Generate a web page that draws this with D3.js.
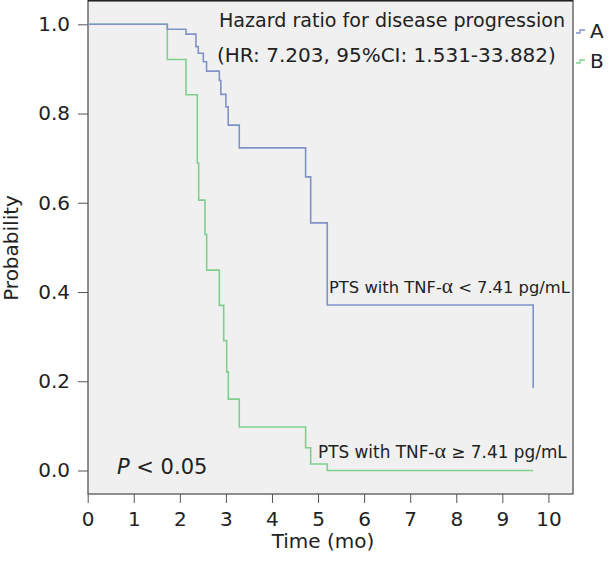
<!DOCTYPE html>
<html>
<head>
<meta charset="utf-8">
<script src="https://cdn.jsdelivr.net/npm/d3@7/dist/d3.min.js"></script>
<style>
  html, body { margin: 0; padding: 0; background: #fff; }
  svg { display: block; }
  text { font-family: "DejaVu Sans", Verdana, sans-serif; fill: #222; }
</style>
</head>
<body>
<svg id="chart" width="615" height="565"></svg>
<script>
// ---- data ----
const xTicks = [0, 1, 2, 3, 4, 5, 6, 7, 8, 9, 10];
const yTicks = [0, 0.2, 0.4, 0.6, 0.8, 1.0];
const seriesNames = ["A", "B"];
const timesA = [0, 1.728, 2.134, 2.35, 2.40, 2.51, 2.58, 2.857, 2.89, 3.0, 3.05, 3.29, 4.73, 4.84, 5.20, 9.67];
const survA  = [1, 0.989, 0.978, 0.950, 0.935, 0.916, 0.895, 0.874, 0.843, 0.815, 0.774, 0.723, 0.658, 0.555, 0.371, 0.185];
const timesB = [0, 1.728, 2.134, 2.379, 2.409, 2.546, 2.583, 2.857, 2.952, 3.017, 3.052, 3.29, 4.73, 4.84, 5.20, 9.67];
const survB  = [1, 0.921, 0.842, 0.689, 0.606, 0.529, 0.449, 0.370, 0.291, 0.221, 0.160, 0.0975, 0.051, 0.0146, 0, 0];
const titleLines = ["Hazard ratio for disease progression", "(HR: 7.203, 95%CI: 1.531-33.882)"];
const xLabel = "Time (mo)";
const yLabel = "Probability";

// ---- layout ----
const colors = { A: "#7f92c9", B: "#7fd08e" };
const frame = { left: 88, right: 573, top: 0.5, bottom: 494 };
const svg = d3.select("#chart");

const x = d3.scaleLinear().domain([0, 10]).range([87.7, 548.4]);
const y = d3.scaleLinear().domain([0, 1]).range([470.5, 24.3]);

// plot background
svg.append("rect")
  .attr("x", frame.left).attr("y", frame.top)
  .attr("width", frame.right - frame.left).attr("height", frame.bottom - frame.top)
  .attr("fill", "#f0f0f0").attr("stroke", "#555").attr("stroke-width", 1.3);
svg.append("line").attr("x1", frame.left).attr("x2", frame.right).attr("y1", 0.8).attr("y2", 0.8)
  .attr("stroke", "#222").attr("stroke-width", 1.6);

// axes
const yAxis = svg.append("g").attr("transform", `translate(${frame.left},0)`)
  .call(d3.axisLeft(y).tickValues(yTicks).tickFormat(d3.format(".1f")).tickSize(10).tickPadding(8));
const xAxis = svg.append("g").attr("transform", `translate(0,${frame.bottom})`)
  .call(d3.axisBottom(x).tickValues(xTicks).tickFormat(d3.format("d")).tickSize(9).tickPadding(9));
[yAxis, xAxis].forEach(g => {
  g.select(".domain").remove();
  g.selectAll(".tick line").attr("stroke", "#555").attr("stroke-width", 1);
  g.selectAll(".tick text").attr("font-size", 20).attr("font-family", "DejaVu Sans").attr("fill", "#222");
});

// curves
const line = d3.line().x(d => x(d[0])).y(d => y(d[1])).curve(d3.curveStepAfter);
const dataA = timesA.map((t, i) => [t, survA[i]]);
const dataB = timesB.map((t, i) => [t, survB[i]]);
svg.append("path").datum(dataB).attr("d", line).attr("fill", "none")
  .attr("stroke", colors.B).attr("stroke-width", 1.6);
svg.append("path").datum(dataA).attr("d", line).attr("fill", "none")
  .attr("stroke", colors.A).attr("stroke-width", 1.6);

// axis labels
svg.append("text").attr("x", 323).attr("y", 548).attr("text-anchor", "middle")
  .attr("font-size", 20).text(xLabel);
svg.append("text").attr("transform", "translate(18,248) rotate(-90)").attr("text-anchor", "middle")
  .attr("font-size", 20).text(yLabel);

// title / hazard ratio
function fit(sel, w) {
  const len = sel.node().getComputedTextLength();
  if (len > w) sel.attr("textLength", w).attr("lengthAdjust", "spacingAndGlyphs");
  return sel;
}
fit(svg.append("text").attr("x", 219).attr("y", 27).attr("font-size", 20).text(titleLines[0]), 346);
fit(svg.append("text").attr("x", 217).attr("y", 62).attr("font-size", 20).text(titleLines[1]), 346);

// curve annotations (font size shrunk to fit the reference width)
function annot(xp, yp, op, w) {
  let fs = 17;
  const t = svg.append("text").attr("x", xp).attr("y", yp);
  const a = t.append("tspan").text("PTS with TNF-");
  const b = t.append("tspan").attr("font-family", "Liberation Serif").text("α");
  const c = t.append("tspan").text(` ${op} 7.41 pg/mL`);
  function setFs(f) { t.attr("font-size", f); b.attr("font-size", f * 1.3); }
  setFs(fs);
  const len = t.node().getComputedTextLength();
  if (len > w) { fs = fs * w / len; setFs(fs); }
}
annot(329, 293, "<", 241);
annot(318, 458, "≥", 249);

// P value
const p = svg.append("text").attr("x", 117).attr("y", 474).attr("font-size", 21);
p.append("tspan").attr("font-style", "italic").text("P");
p.append("tspan").text(" < 0.05");

// legend
const legY = [31, 61];
seriesNames.forEach((s, i) => {
  const yy = legY[i];
  svg.append("path").attr("d", `M576,${yy + 2}H580V${yy - 1}H585`)
    .attr("fill", "none").attr("stroke", colors[s]).attr("stroke-width", 1.3);
  svg.append("text").attr("x", 590).attr("y", yy + 7).attr("font-size", 20).text(s);
});
</script>
</body>
</html>
